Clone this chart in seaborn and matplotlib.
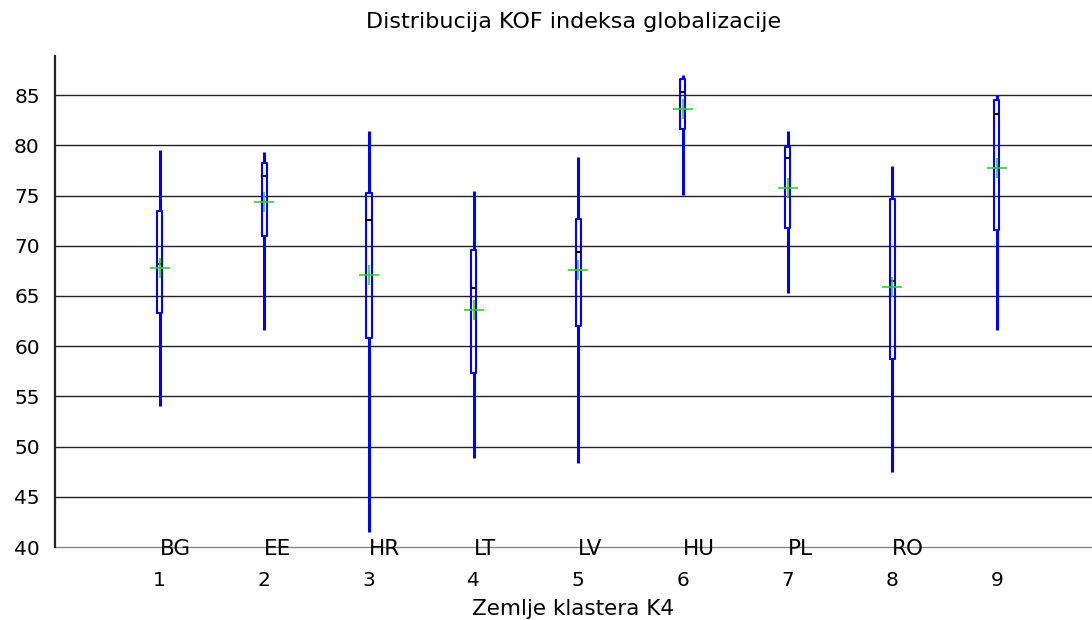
import matplotlib
matplotlib.use('Agg')
import matplotlib.pyplot as plt
import numpy as np
import pandas as pd
import seaborn as sns

# box summary values (gretl style boxplot)
positions = [1, 2, 3, 4, 5, 6, 7, 8, 9]
mins = [54.0, 61.6, 41.5, 48.9, 48.4, 75.1, 65.3, 47.5, 61.6]
q1s = [63.3, 71.0, 60.8, 57.3, 62.0, 81.6, 71.8, 58.7, 71.6]
medians = [68.2, 76.9, 72.6, 65.8, 69.4, 85.3, 78.7, 66.5, 83.1]
q3s = [73.5, 78.2, 75.3, 69.6, 72.7, 86.6, 79.8, 74.7, 84.5]
maxs = [79.5, 79.3, 81.4, 75.5, 78.8, 87.0, 81.4, 77.9, 85.0]
means = [67.8, 74.4, 67.1, 63.6, 67.6, 83.6, 75.8, 65.9, 77.7]

countries = ['BG', 'EE', 'HR', 'LT', 'LV', 'HU', 'PL', 'RO']

yticks = [40, 45, 50, 55, 60, 65, 70, 75, 80, 85]

# five points per box -> exact quartiles with whiskers at min/max
rows = []
for p, a, b, c, d, e in zip(positions, mins, q1s, medians, q3s, maxs):
    for v in (a, b, c, d, e):
        rows.append({'pos': p, 'val': v})
df = pd.DataFrame(rows)

sns.set_style('white')
plt.rcParams['font.family'] = ['DejaVu Sans']

fig = plt.figure(figsize=(10.92, 6.2), dpi=100)
ax = fig.add_axes([0.0504, 0.1177, 0.9496, 0.792])

ax.yaxis.grid(True, color='#222222', linewidth=1)
ax.set_axisbelow(True)

sns.boxplot(data=df, x='pos', y='val', native_scale=True, ax=ax,
            whis=(0, 100), width=0.05, fill=False, color='blue',
            linewidth=1.5, showcaps=False,
            whiskerprops={'linewidth': 2.2, 'color': 'blue'},
            boxprops={'color': 'blue'},
            medianprops={'color': 'black', 'linewidth': 1.5})

ax.plot(positions, means, linestyle='none', marker='+', color='#33cc33',
        markersize=14, markeredgewidth=1.2, zorder=5)

# country names sit on the baseline, left aligned at each box
for lab, xx in zip(countries, positions):
    ax.text(xx, 39.8, lab, ha='left', va='center', fontsize=15.5,
            color='black', clip_on=False, zorder=6)

ax.set_xlim(0, 9.91)
ax.set_ylim(40, 88.9)
ax.set_yticks(yticks)
ax.set_xticks(positions)
ax.set_xticklabels([str(p) for p in positions])
ax.tick_params(axis='both', length=0, labelsize=14.5, colors='black')
ax.tick_params(axis='y', pad=11)
ax.tick_params(axis='x', pad=17)
for gl in ax.get_ygridlines():
    gl.set_clip_on(False)
ax.get_ygridlines()[0].set_color('#888888')

for s in ['top', 'right', 'bottom']:
    ax.spines[s].set_visible(False)
ax.spines['left'].set_color('#222222')
ax.spines['left'].set_linewidth(1.6)

ax.set_xlabel('Zemlje klastera K4', fontsize=15.5, labelpad=7, color='black')
ax.set_ylabel('')
ax.set_title('Distribucija KOF indeksa globalizacije', fontsize=16, pad=20,
             color='black')

fig.savefig('out.png', dpi=100)
